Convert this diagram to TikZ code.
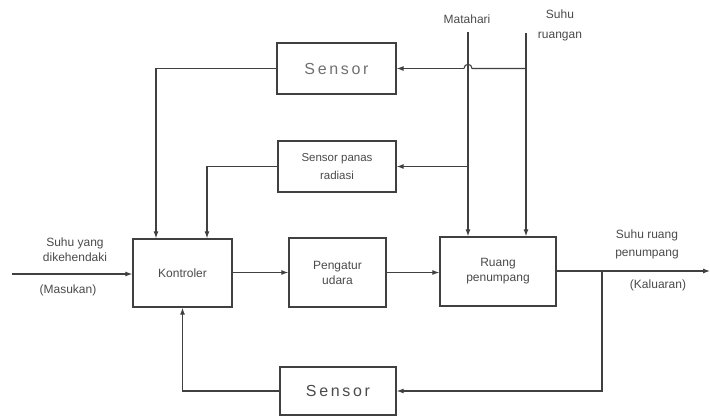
\documentclass[tikz,border=0pt]{standalone}
\usepackage{fontspec}
\setmainfont{Liberation Sans}
\usetikzlibrary{arrows.meta,calc}
\definecolor{ln}{HTML}{404040}
\definecolor{tx}{HTML}{4A4A4A}
\definecolor{txl}{HTML}{707070}
\begin{document}
\begin{tikzpicture}[x=1pt,y=-1pt,
  blk/.style={draw=ln,line width=1.3pt,minimum width=#1,inner sep=0pt,align=center,text=tx,font=\fontsize{12}{15}\selectfont},
  lbl/.style={text=tx,align=center,inner sep=0pt,font=\fontsize{12}{16}\selectfont},
  con/.style={draw=ln,line width=1.1pt},
  arr/.style={con,-{Latex[length=7pt,width=5pt]}}]
\useasboundingbox (0,0) rectangle (710,416);
\node[blk=99pt,minimum height=68pt] (k) at (182.5,273) {Kontroler};
\node[blk=97pt,minimum height=69pt] (p) at (337.5,272.5) {Pengatur\\udara};
\node[blk=116pt,minimum height=69pt] (r) at (498,271.5) {Ruang\\penumpang};
\node[blk=119pt,minimum height=51pt,text=txl,font=\fontsize{16}{18}\selectfont] (sT) at (336.5,68.5) {S\,e\,n\,s\,o\,r};
\node[blk=118pt,minimum height=51pt,font=\fontsize{11.5}{18}\selectfont] (sR) at (337,166.5) {Sensor panas\\radiasi};
\node[blk=116pt,minimum height=48pt,font=\fontsize{16}{18}\selectfont] (sB) at (338,391) {S\,e\,n\,s\,o\,r};
\node[lbl] (tm) at (467,19) {Matahari};
\node[lbl,font=\fontsize{12}{20}\selectfont] (ts) at (560,25) {Suhu\\ruangan};
\node[lbl,font=\fontsize{12}{15}\selectfont] (tin) at (75,250) {Suhu yang\\dikehendaki};
\node[lbl] (tmas) at (68,290) {(Masukan)};
\node[lbl,font=\fontsize{12}{18}\selectfont] (tout) at (647,244) {Suhu ruang\\penumpang};
\node[lbl] (tkel) at (658,285) {(Kaluaran)};
\coordinate (mat) at (468,32);
\coordinate (suh) at (526,33);
\coordinate (in) at (12,274);
\coordinate (out) at (710,271);
\coordinate (br) at (602,271);
% inputs
\draw[arr] (in) -- (in -| k.west);
\draw[arr] (k.east |- p.west) -- (p.west);
\draw[arr] (p.east) -- (r.west |- p.east);
\draw[arr] (r.east |- out) -- (out);
% sun and room temperature
\draw[arr] (mat) -- (mat |- r.north);
\draw[arr] (suh) -- (suh |- r.north);
\draw[con] (suh |- sT.east) -- (472,68.5) .. controls (472,63) and (464,63) .. (464,68.5);
\draw[arr] (464,68.5) -- (sT.east);
\draw[arr] (mat |- sR.east) -- (sR.east);
% sensors to controller
\draw[arr] (sT.west) -| ([xshift=-26.5pt]k.north);
\draw[arr] (sR.west) -| ([xshift=24.5pt]k.north);
% feedback
\draw[arr] (br) |- (sB.east);
\draw[arr] (sB.west) -| (k.south);
\end{tikzpicture}
\end{document}
